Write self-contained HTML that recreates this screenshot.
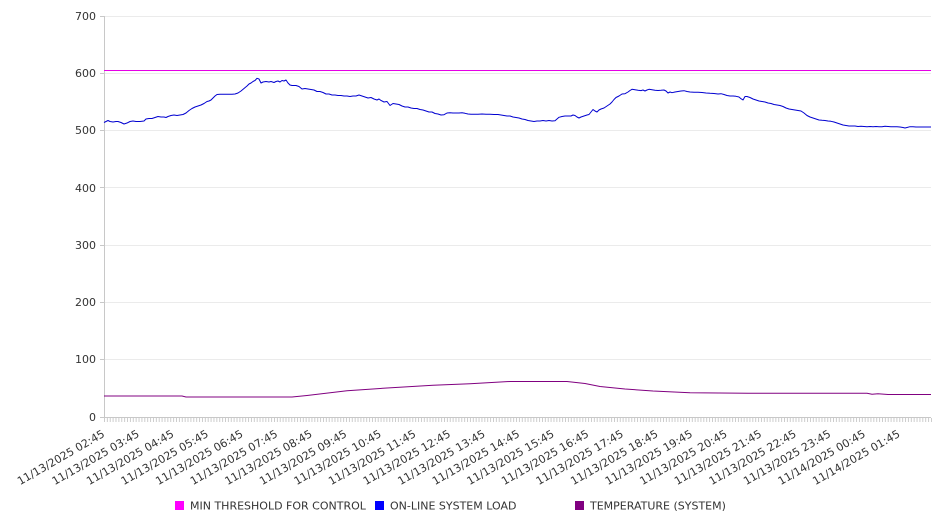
<!DOCTYPE html>
<html><head><meta charset="utf-8"><style>
html,body{margin:0;padding:0;background:#fff;}
svg{display:block;font-family:"DejaVu Sans","Liberation Sans",sans-serif;}
</style></head><body>
<svg width="946" height="526" viewBox="0 0 946 526" xmlns="http://www.w3.org/2000/svg">
<defs>
<pattern id="tk" x="104" y="417" width="2.8815" height="5" patternUnits="userSpaceOnUse">
<rect x="0" y="0" width="0.9" height="5" fill="#c8c8c8"/>
</pattern>
</defs>
<g stroke="#ebebeb" stroke-width="1">
<line x1="104" y1="16.5" x2="931" y2="16.5"/>
<line x1="104" y1="73.5" x2="931" y2="73.5"/>
<line x1="104" y1="130.5" x2="931" y2="130.5"/>
<line x1="104" y1="187.5" x2="931" y2="187.5"/>
<line x1="104" y1="245.5" x2="931" y2="245.5"/>
<line x1="104" y1="302.5" x2="931" y2="302.5"/>
<line x1="104" y1="359.5" x2="931" y2="359.5"/>
</g>
<g stroke="#c8c8c8" stroke-width="1">
<line x1="104.5" y1="16" x2="104.5" y2="417"/>
<line x1="104" y1="417.5" x2="931" y2="417.5"/>
<line x1="100" y1="16.5" x2="104" y2="16.5"/>
<line x1="100" y1="73.5" x2="104" y2="73.5"/>
<line x1="100" y1="130.5" x2="104" y2="130.5"/>
<line x1="100" y1="187.5" x2="104" y2="187.5"/>
<line x1="100" y1="245.5" x2="104" y2="245.5"/>
<line x1="100" y1="302.5" x2="104" y2="302.5"/>
<line x1="100" y1="359.5" x2="104" y2="359.5"/>
<line x1="100" y1="417.5" x2="104" y2="417.5"/>
</g>
<rect x="104" y="418" width="828" height="4" fill="url(#tk)"/>
<g font-size="11" fill="#333" text-anchor="end">
<text x="96" y="20">700</text>
<text x="96" y="77">600</text>
<text x="96" y="134">500</text>
<text x="96" y="192">400</text>
<text x="96" y="249">300</text>
<text x="96" y="306">200</text>
<text x="96" y="363">100</text>
<text x="96" y="421">0</text>
</g>
<line x1="104" y1="70.5" x2="931" y2="70.5" stroke="#e600e6" stroke-width="1.1"/>
<polyline fill="none" stroke="#0000d0" stroke-width="1" stroke-linejoin="round" points="104,122.5 106,121.5 108,120.5 110,121.5 113,122 116,121.5 118,121.5 121,122.5 124,124 127,123 130,121.5 133,121 136,121.5 140,121.5 144,121 146,119 149,118.5 152,118.5 155,117.5 158,116.5 161,117 164,117 166,117.5 168,116.5 171,115.5 174,115 177,115.5 180,115 183,114.5 186,113 189,110.5 192,108.5 195,107 198,106 201,105 204,103.5 207,101.5 209,101 211,100 213,98 215,96 217,94.5 220,94.3 224,94.3 228,94.3 232,94.3 235,94 238,93 241,91 244,88.5 247,86 249,84 251,83 253,81.5 255,80.5 257,78.3 259,79 261,83 263,82 266,81.5 269,82 271,81.5 274,82.5 276,81.5 278,81 280,82 282,80.5 284,81 286,80 288,83 290,85 292,85.5 296,85.5 299,86.5 302,89 305,88.5 308,89 311,89.5 314,90 317,91.5 320,91.5 323,92.5 326,94 329,94 332,95 335,95 338,95.5 341,95.5 344,96 347,96 350,96.5 353,96 356,96 359,95 362,96 365,97 368,98 371,97.5 374,99 377,100 379,99 381,100.5 384,102 387,101.5 390,105.5 393,103.5 396,104 399,104.5 402,106 405,107 408,107 411,108 414,108.5 417,108.5 420,109.5 423,110 426,111 429,112 432,112 435,113.5 438,114 441,115 444,114.7 447,113 450,112.7 453,113 456,113 459,113 462,112.7 465,113.3 468,114 471,114.3 474,114.3 478,114.3 482,114 486,114.3 490,114.3 494,114.5 498,114.5 501,115 504,115.5 507,116 510,116 513,117 516,117.5 519,118 522,119 525,119.5 528,120.5 531,121 534,121.5 537,121 540,121 543,120.5 546,121 549,120.5 552,121 555,120.7 557,119 559,117.3 562,116.5 565,116 568,116 571,116 573,115 575,115.5 577,117 579,118 581,117 584,116 587,115 589,114.5 591,112 593,109.5 595,111 597,112 599,110 601,109 604,108 607,106 610,104 612,102 614,99.5 616,97.5 619,96 622,94 625,93.7 628,92 630,90.5 632,89.3 635,89.8 638,90.3 641,90.6 643,90 645,91 647,90 649,89.3 652,89.8 655,90.3 658,90.5 661,90.3 664,90 666,91 668,93 670,92 672,92.7 675,92 678,91.5 681,91 684,90.7 687,91.5 690,92 694,92.3 698,92.3 702,92.5 706,93 710,93.3 714,93.5 718,94 721,93.7 724,94.5 727,95.5 730,96 733,96 736,96.3 739,97 741,98.7 743,100 745,96.5 747,96.5 750,97.5 753,99 756,100 759,101 762,101.5 765,102 768,103 771,103.5 774,104.5 777,105 780,105.5 783,106.5 786,108 789,109 792,109.5 795,110 798,110.5 801,111 804,113 807,115.5 810,117 813,118 816,119 819,120 822,120.3 825,120.5 828,121 831,121.3 834,122 837,123 840,124 843,125 846,125.5 849,126 852,126 855,126 858,126.5 861,126.3 864,126.5 867,126.7 870,126.5 873,126.7 876,126.5 879,126.7 882,126.7 885,126.3 888,126.5 891,126.7 894,126.7 897,126.7 900,127 903,127.5 905,128 907,127.5 910,126.7 913,126.7 916,127 920,127 925,127 931,127"/>
<polyline fill="none" stroke="#800080" stroke-width="1" stroke-linejoin="round" points="104,396 182,396 186,397 292,397 307,395.5 347,390.7 387,388 433,385.3 470,383.7 510,381.5 567,381.5 585,383.5 600,386.5 625,389 653,391 690,392.7 748,393.3 867,393.3 872,394.3 878,393.7 888,394.5 931,394.5"/>
<g font-size="11" fill="#333" text-anchor="end">
<text x="105.5" y="436" transform="rotate(-30 105.5 436)">11/13/2025 02:45</text>
<text x="140.1" y="436" transform="rotate(-30 140.1 436)">11/13/2025 03:45</text>
<text x="174.7" y="436" transform="rotate(-30 174.7 436)">11/13/2025 04:45</text>
<text x="209.2" y="436" transform="rotate(-30 209.2 436)">11/13/2025 05:45</text>
<text x="243.8" y="436" transform="rotate(-30 243.8 436)">11/13/2025 06:45</text>
<text x="278.4" y="436" transform="rotate(-30 278.4 436)">11/13/2025 07:45</text>
<text x="313.0" y="436" transform="rotate(-30 313.0 436)">11/13/2025 08:45</text>
<text x="347.6" y="436" transform="rotate(-30 347.6 436)">11/13/2025 09:45</text>
<text x="382.1" y="436" transform="rotate(-30 382.1 436)">11/13/2025 10:45</text>
<text x="416.7" y="436" transform="rotate(-30 416.7 436)">11/13/2025 11:45</text>
<text x="451.3" y="436" transform="rotate(-30 451.3 436)">11/13/2025 12:45</text>
<text x="485.9" y="436" transform="rotate(-30 485.9 436)">11/13/2025 13:45</text>
<text x="520.4" y="436" transform="rotate(-30 520.4 436)">11/13/2025 14:45</text>
<text x="555.0" y="436" transform="rotate(-30 555.0 436)">11/13/2025 15:45</text>
<text x="589.6" y="436" transform="rotate(-30 589.6 436)">11/13/2025 16:45</text>
<text x="624.2" y="436" transform="rotate(-30 624.2 436)">11/13/2025 17:45</text>
<text x="658.8" y="436" transform="rotate(-30 658.8 436)">11/13/2025 18:45</text>
<text x="693.3" y="436" transform="rotate(-30 693.3 436)">11/13/2025 19:45</text>
<text x="727.9" y="436" transform="rotate(-30 727.9 436)">11/13/2025 20:45</text>
<text x="762.5" y="436" transform="rotate(-30 762.5 436)">11/13/2025 21:45</text>
<text x="797.1" y="436" transform="rotate(-30 797.1 436)">11/13/2025 22:45</text>
<text x="831.6" y="436" transform="rotate(-30 831.6 436)">11/13/2025 23:45</text>
<text x="866.2" y="436" transform="rotate(-30 866.2 436)">11/14/2025 00:45</text>
<text x="900.8" y="436" transform="rotate(-30 900.8 436)">11/14/2025 01:45</text>
</g>
<rect x="175" y="501" width="9" height="9" fill="#ff00ff"/>
<rect x="375" y="501" width="9" height="9" fill="#0000ff"/>
<rect x="575" y="501" width="9" height="9" fill="#800080"/>
<g font-size="11" fill="#333">
<text x="190" y="509.5">MIN THRESHOLD FOR CONTROL</text>
<text x="390" y="509.5">ON-LINE SYSTEM LOAD</text>
<text x="590" y="509.5">TEMPERATURE (SYSTEM)</text>
</g>
</svg>
</body></html>
